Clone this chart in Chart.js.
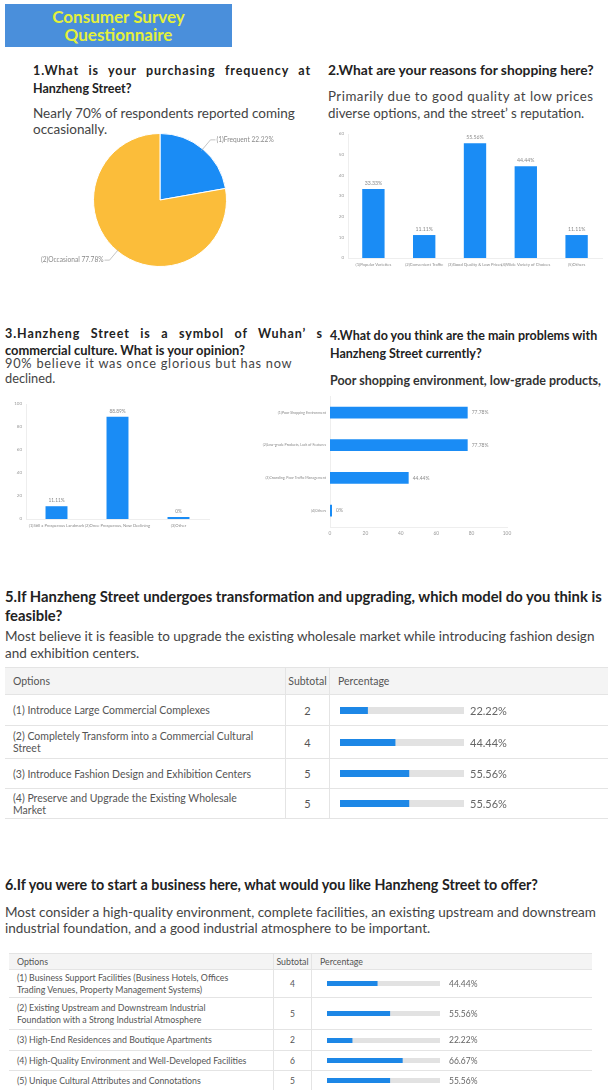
<!DOCTYPE html>
<html>
<head>
<meta charset="utf-8">
<script src="https://cdn.jsdelivr.net/npm/chart.js@4.4.1/dist/chart.umd.min.js"></script>
<style>
  html, body { margin: 0; padding: 0; }
  body { width: 608px; height: 1090px; overflow: hidden; background: #fff; position: relative; font-family: Lato, "Noto Sans", sans-serif; color: #333; }
  .abs { position: absolute; white-space: nowrap; }
  .title { left: 5px; top: 4px; width: 227px; height: 43px; background: #4a8fdb; color: #e4f03a; font-weight: bold; font-size: 17px; line-height: 17.5px; text-align: center; padding-top: 4px; box-sizing: border-box; }
  .h { font-weight: bold; font-size: 12.5px; color: #222; line-height: 19px; }
  .p { font-size: 13.5px; color: #444; line-height: 17px; }
  .wide { letter-spacing: 0.9px; }
  canvas { position: absolute; }
  .tbl { position: absolute; border-top: 1px solid #e4e4e4; }
  .row { display: flex; border-bottom: 1px solid #e4e4e4; box-sizing: border-box; align-items: center; }
  .row.head { background: #f4f4f4; }
  .c1 { box-sizing: border-box; white-space: normal; }
  .c2 { box-sizing: border-box; text-align: center; border-left: 1px solid #e4e4e4; border-right: 1px solid #e4e4e4; align-self: stretch; display: flex; align-items: center; justify-content: center; }
  .c3 { box-sizing: border-box; position: relative; align-self: stretch; display: flex; align-items: center; }
  .c3 canvas { position: static; }
</style>
</head>
<body>
<script>
// ---- data ----
const freqLabels = ["(1)Frequent", "(2)Occasional"];
const freqValues = [22.22, 77.78];

const reasonLabels = ["(1)Popular Varieties", "(2)Convenient Traffic", "(3)Good Quality & Low Prices", "(4)Wide Variety of Choices", "(5)Others"];
const reasonValues = [33.33, 11.11, 55.56, 44.44, 11.11];
const reasonTicks = [0, 10, 20, 30, 40, 50, 60];

const opinionLabels = ["(1)Still a Prosperous Landmark", "(2)Once Prosperous, Now Declining", "(3)Other"];
const opinionValues = [11.11, 88.89, 0];
const opinionTicks = [0, 20, 40, 60, 80, 100];

const problemLabels = ["(1)Poor Shopping Environment", "(2)Low-grade Products, Lack of Features", "(3)Crowding, Poor Traffic Management", "(4)Others"];
const problemValues = [77.78, 77.78, 44.44, 0];
const problemTicks = [0, 20, 40, 60, 80, 100];

const modelOptions = ["(1) Introduce Large Commercial Complexes", "(2) Completely Transform into a Commercial Cultural Street", "(3) Introduce Fashion Design and Exhibition Centers", "(4) Preserve and Upgrade the Existing Wholesale Market"];
const modelSubtotals = [2, 4, 5, 5];
const modelPercents = [22.22, 44.44, 55.56, 55.56];

const offerOptions = ["(1) Business Support Facilities (Business Hotels, Offices Trading Venues, Property Management Systems)", "(2) Existing Upstream and Downstream Industrial Foundation with a Strong Industrial Atmosphere", "(3) High-End Residences and Boutique Apartments", "(4) High-Quality Environment and Well-Developed Facilities", "(5) Unique Cultural Attributes and Connotations"];
const offerSubtotals = [4, 5, 2, 6, 5];
const offerPercents = [44.44, 55.56, 22.22, 66.67, 55.56];

const BLUE = "#1a8cf5";
const ORANGE = "#fbbd3a";
const FONT = "Lato, 'Noto Sans', sans-serif";
</script>

<div class="abs title">Consumer Survey<br>Questionnaire</div>

<div class="abs h wide" style="left:33px;top:61px;width:278px;text-align:justify;text-align-last:justify;font-size:12.5px;">1.What is your purchasing frequency at</div>
<div class="abs h" style="left:33px;top:79px;">Hanzheng Street?</div>
<div class="abs p" style="left:33px;top:105px;line-height:16px;">Nearly 70% of respondents reported coming<br>occasionally.</div>

<div class="abs h" style="left:328px;top:60px;font-size:13.8px;">2.What are your reasons for shopping here?</div>
<div class="abs p" style="left:328px;top:88px;font-size:13.3px;"><span style="letter-spacing:0.5px">Primarily due to good quality at low prices</span><br>diverse options, and the street’ s reputation.</div>

<div class="abs h wide" style="left:5px;top:324px;width:318px;text-align:justify;text-align-last:justify;">3.Hanzheng Street is a symbol of Wuhan’ s</div>
<div class="abs h" style="left:5px;top:341px;font-size:12.9px;">commercial culture. What is your opinion?</div>
<div class="abs p" style="left:5px;top:356px;line-height:15px;font-size:12.8px;"><span style="letter-spacing:0.75px">90% believe it was once glorious but has now</span><br>declined.</div>

<div class="abs h" style="left:330px;top:326px;">4.What do you think are the main problems with</div>
<div class="abs h" style="left:330px;top:344px;">Hanzheng Street currently?</div>
<div class="abs h" style="left:330px;top:371px;color:#333;">Poor shopping environment, low-grade products,</div>

<div class="abs h" style="left:5px;top:587px;font-size:14.8px;line-height:19px;">5.If Hanzheng Street undergoes transformation and upgrading, which model do you think is<br>feasible?</div>
<div class="abs p" style="left:5px;top:628px;">Most believe it is feasible to upgrade the existing wholesale market while introducing fashion design<br>and exhibition centers.</div>

<div class="abs h" style="left:5px;top:875px;font-size:14.3px;">6.If you were to start a business here, what would you like Hanzheng Street to offer?</div>
<div class="abs p" style="left:5px;top:904px;line-height:16px;font-size:13.5px;">Most consider a high-quality environment, complete facilities, an existing upstream and downstream<br>industrial foundation, and a good industrial atmosphere to be important.</div>

<canvas id="pie" width="290" height="150" style="left:20px;top:125px;"></canvas>
<canvas id="reasons" width="276" height="146" style="left:330px;top:126px;"></canvas>
<canvas id="opinion" width="215" height="142" style="left:0px;top:396px;"></canvas>
<canvas id="problems" width="290" height="150" style="left:240px;top:390px;"></canvas>

<div class="tbl" id="t5" style="left:5px;top:667px;width:610px;font-size:10.5px;color:#555;"></div>
<div class="tbl" id="t6" style="left:9px;top:953px;width:583px;font-size:8.8px;color:#555;"></div>

<script>
Chart.defaults.font.family = FONT;
Chart.defaults.animation = false;
Chart.defaults.responsive = false;
Chart.defaults.plugins.legend.display = false;
Chart.defaults.plugins.tooltip.enabled = false;

// labels for pie slices with short leader lines
const pieLabels = {
  id: "pieLabels",
  afterDatasetsDraw(chart) {
    const ctx = chart.ctx;
    const meta = chart.getDatasetMeta(0);
    ctx.save();
    ctx.font = "6.6px " + FONT;
    ctx.fillStyle = "#8a8a8a";
    ctx.strokeStyle = "#b5b5b5";
    ctx.lineWidth = 0.8;
    meta.data.forEach((arc, i) => {
      const mid = (arc.startAngle + arc.endAngle) / 2;
      const r = arc.outerRadius;
      const x0 = arc.x + Math.cos(mid) * (r - 2), y0 = arc.y + Math.sin(mid) * (r - 2);
      const x1 = arc.x + Math.cos(mid) * (r + 12), y1 = arc.y + Math.sin(mid) * (r + 12);
      const right = Math.cos(mid) >= 0;
      const x2 = x1 + (right ? 5 : -5);
      ctx.beginPath();
      ctx.moveTo(x0, y0); ctx.lineTo(x1, y1); ctx.lineTo(x2, y1);
      ctx.stroke();
      ctx.textAlign = right ? "left" : "right";
      ctx.textBaseline = "middle";
      const txt = chart.data.labels[i] + " " + chart.data.datasets[0].data[i].toFixed(2) + "%";
      ctx.fillText(txt, x2 + (right ? 1 : -1), y1);
    });
    ctx.restore();
  }
};

// percentage labels next to bars
const barValues = {
  id: "barValues",
  afterDatasetsDraw(chart, args, opts) {
    const ctx = chart.ctx;
    const meta = chart.getDatasetMeta(0);
    const horiz = chart.options.indexAxis === "y";
    ctx.save();
    ctx.font = (opts.size || 5) + "px " + FONT;
    ctx.fillStyle = "#8c8c8c";
    meta.data.forEach((bar, i) => {
      const v = chart.data.datasets[0].data[i];
      const txt = v === 0 ? "0%" : v.toFixed(2) + "%";
      if (horiz) {
        ctx.textAlign = "left"; ctx.textBaseline = "middle";
        ctx.fillText(txt, bar.x + 4, bar.y);
      } else {
        ctx.textAlign = "center"; ctx.textBaseline = "bottom";
        ctx.fillText(txt, bar.x, bar.y - 3);
      }
    });
    ctx.restore();
  }
};

new Chart(document.getElementById("pie"), {
  type: "pie",
  data: { labels: freqLabels, datasets: [{ data: freqValues, backgroundColor: [BLUE, ORANGE], borderColor: "#fff", borderWidth: 1 }] },
  options: { layout: { padding: { top: 8, bottom: 8, left: 0, right: 10 } } },
  plugins: [pieLabels]
});

function tickScale(ticks, size, fit) {
  return {
    min: ticks[0], max: ticks[ticks.length - 1],
    afterBuildTicks: (s) => { s.ticks = ticks.map(v => ({ value: v })); },
    grid: { display: false, drawTicks: false },
    border: { color: "#eeeeee" },
    ticks: { font: { size: size }, color: "#9a9a9a", padding: 4 },
    afterFit: fit
  };
}
function catScale(size, fit) {
  return {
    grid: { display: false, drawTicks: false },
    border: { color: "#eeeeee" },
    ticks: { font: { size: size }, color: "#8a8a8a", autoSkip: false, maxRotation: 0, padding: 4 },
    afterFit: fit
  };
}

new Chart(document.getElementById("reasons"), {
  type: "bar",
  data: { labels: reasonLabels, datasets: [{ data: reasonValues, backgroundColor: BLUE, barPercentage: 0.55, categoryPercentage: 0.8 }] },
  options: {
    layout: { padding: { top: 8, right: 4 } },
    scales: { x: catScale(4.2, s => { s.height = 14; }), y: tickScale(reasonTicks, 4.5, s => { s.width = 18; }) },
    plugins: { barValues: { size: 5.2 } }
  },
  plugins: [barValues]
});

new Chart(document.getElementById("opinion"), {
  type: "bar",
  data: { labels: opinionLabels, datasets: [{ data: opinionValues, backgroundColor: BLUE, barPercentage: 0.45, categoryPercentage: 0.8, minBarLength: 2 }] },
  options: {
    layout: { padding: { top: 8, left: 6, right: 6 } },
    scales: { x: catScale(4.2, s => { s.height = 19; }), y: tickScale(opinionTicks, 4.5, s => { s.width = 20; }) },
    plugins: { barValues: { size: 4.8 } }
  },
  plugins: [barValues]
});

new Chart(document.getElementById("problems"), {
  type: "bar",
  data: { labels: problemLabels, datasets: [{ data: problemValues, backgroundColor: BLUE, barPercentage: 0.45, categoryPercentage: 0.8, minBarLength: 2 }] },
  options: {
    indexAxis: "y",
    layout: { padding: { top: 0, right: 23 } },
    scales: {
      x: tickScale(problemTicks, 4.8, s => { s.height = 13; }),
      y: catScale(3.6, s => { s.width = 90; })
    },
    plugins: { barValues: { size: 5 } }
  },
  plugins: [barValues]
});

// gray track behind each table progress bar
const track = {
  id: "track",
  beforeDatasetsDraw(chart) {
    const a = chart.chartArea;
    chart.ctx.save();
    chart.ctx.fillStyle = "#e2e2e2";
    chart.ctx.fillRect(a.left, a.top, a.right - a.left, a.bottom - a.top);
    chart.ctx.restore();
  }
};

function progress(canvas, value) {
  new Chart(canvas, {
    type: "bar",
    data: { labels: [""], datasets: [{ data: [value], backgroundColor: "#1d87e6", barPercentage: 1, categoryPercentage: 1 }] },
    options: {
      indexAxis: "y",
      layout: { padding: 0 },
      scales: { x: { display: false, min: 0, max: 100 }, y: { display: false } }
    },
    plugins: [track]
  });
}

function buildTable(el, cfg, options, subtotals, percents) {
  const head = document.createElement("div");
  head.className = "row head";
  head.style.height = cfg.headH + "px";
  head.innerHTML = `<div class="c1" style="width:${cfg.w1}px;padding-left:${cfg.pad}px">Options</div>` +
    `<div class="c2" style="width:${cfg.w2}px">Subtotal</div>` +
    `<div class="c3" style="padding-left:${cfg.pad}px">Percentage</div>`;
  el.appendChild(head);
  options.forEach((opt, i) => {
    const row = document.createElement("div");
    row.className = "row";
    row.style.height = cfg.rowH[i] + "px";
    row.innerHTML = `<div class="c1" style="width:${cfg.w1}px;padding-left:${cfg.pad}px;padding-right:${cfg.padR}px;line-height:${cfg.lh}px">${opt}</div>` +
      `<div class="c2" style="width:${cfg.w2}px;font-size:${cfg.numSize}px">${subtotals[i]}</div>` +
      `<div class="c3" style="padding-left:${cfg.barL}px"><canvas width="${cfg.barW}" height="${cfg.barH}"></canvas>` +
      `<span style="margin-left:${cfg.gap}px;font-size:${cfg.pctSize}px;color:#666">${percents[i].toFixed(2)}%</span></div>`;
    el.appendChild(row);
    progress(row.querySelector("canvas"), percents[i]);
  });
}

buildTable(document.getElementById("t5"),
  { headH: 27, rowH: [31, 33, 30, 30], w1: 280, w2: 45, pad: 8, padR: 24, lh: 12, barL: 10, barW: 124, barH: 7, gap: 6, numSize: 11, pctSize: 11 },
  modelOptions, modelSubtotals, modelPercents);

buildTable(document.getElementById("t6"),
  { headH: 16, rowH: [28, 32, 21, 20, 20], w1: 264, w2: 39, pad: 8, padR: 22, lh: 11.5, barL: 15, barW: 113, barH: 5, gap: 9, numSize: 8.5, pctSize: 8.5 },
  offerOptions, offerSubtotals, offerPercents);
</script>
</body>
</html>
